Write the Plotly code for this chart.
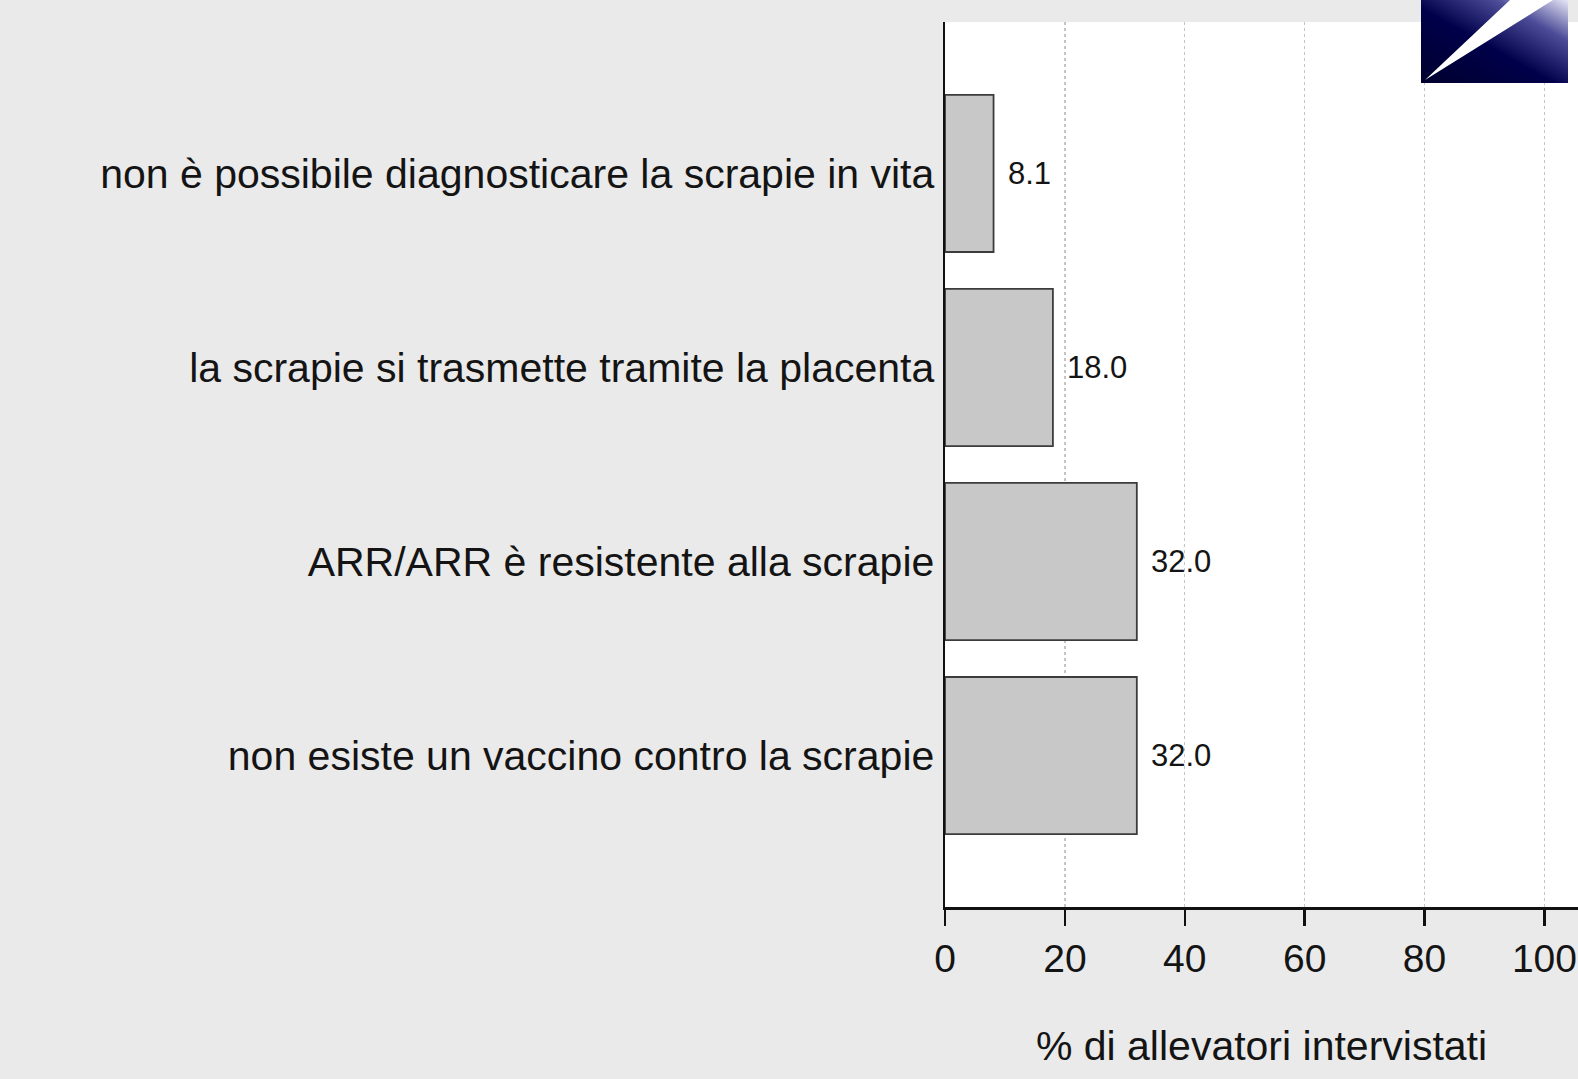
import base64
import plotly.graph_objects as go

categories = [
    "non è possibile diagnosticare la scrapie in vita",
    "la scrapie si trasmette tramite la placenta",
    "ARR/ARR è resistente alla scrapie",
    "non esiste un vaccino contro la scrapie",
]
values = [8.1, 18.0, 32.0, 32.0]
value_labels = ["8.1", "18.0", "32.0", "32.0"]
x_ticks = [0, 20, 40, 60, 80, 100]
x_title = "% di allevatori intervistati"

FONT = "Liberation Sans, Arial, Helvetica, sans-serif"
TXT = "#141414"

fig = go.Figure()
fig.add_trace(go.Bar(
    x=values,
    y=categories,
    orientation="h",
    marker=dict(color="#c8c8c8", line=dict(color="#3c3c3c", width=1.8)),
    hoverinfo="skip",
))

for v, c, t in zip(values, categories, value_labels):
    fig.add_annotation(
        x=v, y=c, text=t, showarrow=False, xanchor="left", yanchor="middle",
        xshift=12, font=dict(family=FONT, size=31, color=TXT),
    )

logo_svg = """<svg xmlns='http://www.w3.org/2000/svg' width='147' height='83' viewBox='0 0 147 83'>
<defs><linearGradient id='g' x1='0' y1='1' x2='1' y2='0'>
<stop offset='0' stop-color='#00002e'/>
<stop offset='0.45' stop-color='#00004a'/>
<stop offset='0.75' stop-color='#4b4b98'/>
<stop offset='1' stop-color='#e6e6f6'/>
</linearGradient></defs>
<rect x='0' y='0' width='147' height='83' fill='url(#g)'/>
<polygon points='4,80 89,0 132,0' fill='#ffffff'/>
</svg>"""
logo_uri = "data:image/svg+xml;base64," + base64.b64encode(logo_svg.encode()).decode()

W, H = 1578, 1079
L, R, T, B = 945, 0, 22, 172
pw, ph = W - L - R, H - T - B

fig.add_layout_image(dict(
    source=logo_uri, xref="paper", yref="paper",
    x=(1421 - L) / pw, y=(H - B - 0) / ph,
    sizex=147 / pw, sizey=83 / ph,
    xanchor="left", yanchor="top", sizing="stretch", layer="above",
))

n = len(categories)
fig.update_layout(
    width=W, height=H,
    margin=dict(l=L, r=R, t=T, b=B, pad=0),
    paper_bgcolor="#eaeaea",
    plot_bgcolor="#ffffff",
    bargap=0.19,
    showlegend=False,
    font=dict(family=FONT, color=TXT),
    xaxis=dict(
        range=[0, 105.6],
        tickvals=x_ticks,
        ticktext=[str(t) for t in x_ticks],
        tickfont=dict(size=39, color=TXT),
        ticks="outside", ticklen=16, tickwidth=2.5, tickcolor="#111",
        showline=True, linecolor="#111", linewidth=2.5,
        showgrid=True, gridcolor="#c4c4c4", gridwidth=1.3, griddash="dot",
        zeroline=False,
        title=dict(text=x_title, font=dict(size=41, color=TXT), standoff=52),
    ),
    yaxis=dict(
        type="category",
        categoryorder="array", categoryarray=categories,
        range=[n - 1 + 0.78, -0.78],
        tickfont=dict(size=41, color=TXT),
        ticks="", ticklabelstandoff=0,
        showline=True, linecolor="#111", linewidth=2.5,
        showgrid=False, zeroline=False,
    ),
)

fig.write_html(
    "out.html",
    config={"displayModeBar": False, "staticPlot": True},
    post_script="document.body.style.margin='0px';document.body.style.overflow='hidden';",
)
